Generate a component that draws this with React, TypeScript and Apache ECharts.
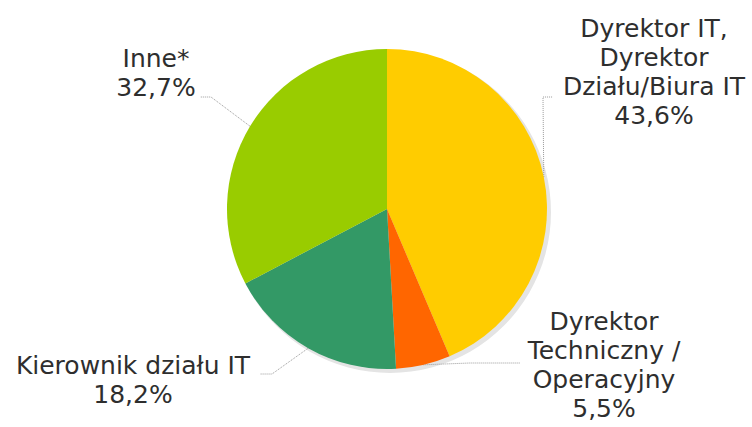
import React, { useEffect, useRef } from "react";
import * as echarts from "echarts";

const categories = [
  "Dyrektor IT,\nDyrektor\nDziału/Biura IT",
  "Dyrektor\nTechniczny /\nOperacyjny",
  "Kierownik działu IT",
  "Inne*",
];
const values = [43.6, 5.5, 18.2, 32.7];
const valueLabels = ["43,6%", "5,5%", "18,2%", "32,7%"];
const colors = ["#FFCC00", "#FF6600", "#339966", "#99CC00"];

// label block placement (layout only)
const labelPos: { x: number; y: number; line: number[][] }[] = [
  { x: 654, y: 14, line: [[543, 97], [553, 97]] },
  { x: 604, y: 307, line: [[470, 363], [520, 363]] },
  { x: 133, y: 351, line: [[272, 374], [260, 374]] },
  { x: 156, y: 44, line: [[211, 97], [200, 97]] },
];

const CX = 387;
const CY = 209;
const R = 160;

export default function App() {
  const ref = useRef<HTMLDivElement>(null);
  useEffect(() => {
    if (!ref.current) return;
    const chart = echarts.init(ref.current, null, { renderer: "svg" });
    const total = values.reduce((a, b) => a + b, 0);
    const data = categories.map((c, i) => ({
      name: c,
      value: values[i],
      itemStyle: { color: colors[i] },
    }));
    chart.setOption({
      animation: false,
      backgroundColor: "#ffffff",
      series: [
        {
          type: "pie",
          silent: true,
          center: [CX + 3, CY + 3],
          radius: [0, R + 1],
          label: { show: false },
          labelLine: { show: false },
          itemStyle: { color: "#e4e4e4" },
          data: [{ name: "shadow", value: 1 }],
          z: 1,
        },
        {
          type: "pie",
          center: [CX, CY],
          radius: [0, R],
          startAngle: 90,
          clockwise: true,
          z: 2,
          data,
          label: {
            show: true,
            position: "outside",
            formatter: (p: any) => `${p.name}\n${valueLabels[p.dataIndex]}`,
            fontFamily: "DejaVu Sans",
            fontSize: 25,
            lineHeight: 29,
            color: "#2e2e2e",
            align: "center",
            overflow: "none",
            width: 300,
          },
          labelLine: {
            show: true,
            lineStyle: { color: "#9a9a9a", width: 1, type: "dotted" },
          },
          labelLayout: (params: any) => {
            const i = params.dataIndex;
            const lp = labelPos[i];
            let before = 0;
            for (let k = 0; k < i; k++) before += values[k];
            const mid = ((before + values[i] / 2) / total) * Math.PI * 2;
            const edge = [CX + R * Math.sin(mid), CY - R * Math.cos(mid)];
            return {
              x: lp.x,
              y: lp.y,
              align: "center",
              verticalAlign: "top",
              labelLinePoints: [edge, lp.line[0], lp.line[1]],
            };
          },
        },
      ],
    });
    return () => chart.dispose();
  }, []);
  return (
    <div
      ref={ref}
      style={{ position: "absolute", left: 0, top: 0, width: 752, height: 427 }}
    />
  );
}
